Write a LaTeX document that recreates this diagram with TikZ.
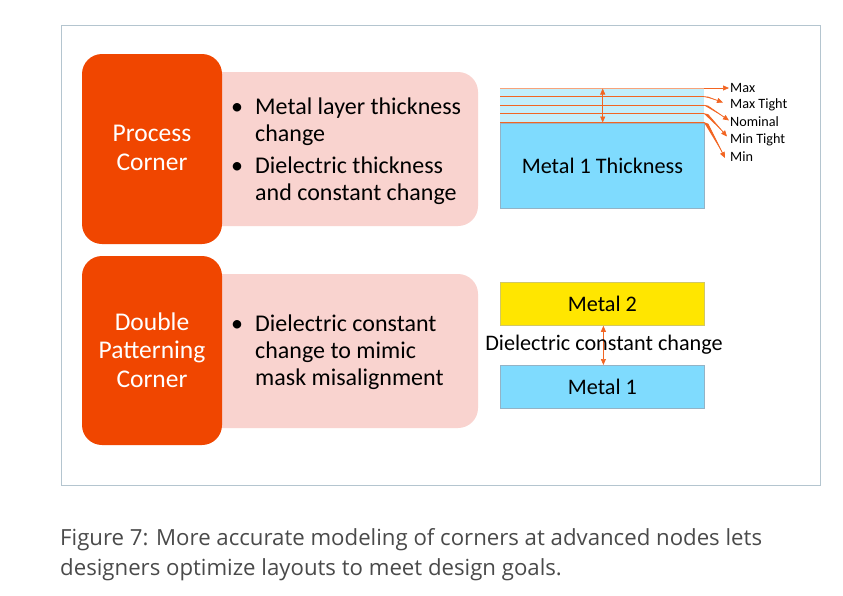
\documentclass[tikz,border=0pt]{standalone}
\usepackage{fontspec}
\setmainfont{Carlito}
\newfontfamily\capfont{Open Sans}
\usetikzlibrary{arrows.meta}
\definecolor{corner}{HTML}{F04600}
\definecolor{pinkbg}{HTML}{F9D3CF}
\definecolor{metalblue}{HTML}{7FDBFE}
\definecolor{bandblue}{HTML}{C2EEFB}
\definecolor{metalyellow}{HTML}{FFE600}
\definecolor{edgeblue}{HTML}{93B3C6}
\definecolor{frame}{HTML}{B4C5CF}
\definecolor{lead}{HTML}{F26522}
\definecolor{captext}{HTML}{4A4A4A}
\begin{document}
\begin{tikzpicture}[x=1pt,y=-1pt,
  cornerbox/.style={fill=corner,rounded corners=20pt},
  pinkbox/.style={fill=pinkbg,rounded corners=20pt},
  cornertext/.style={text=white,font=\fontsize{25.5}{28.5}\selectfont,align=center},
  bullettext/.style={anchor=base west,font=\fontsize{24}{27}\selectfont,align=left,inner sep=0pt},
  metalbox/.style={draw=edgeblue,line width=0.8pt,fill=metalblue},
  leader/.style={draw=lead,line width=0.7pt},
  tip/.style={-{Triangle[length=6pt,width=5pt]},draw=lead,fill=lead,line width=0.7pt},
  dtip/.style={{Triangle[length=6pt,width=5pt]}-{Triangle[length=6pt,width=5pt]},draw=lead,line width=0.7pt},
  lvl/.style={anchor=west,font=\fontsize{14.2}{16}\selectfont,inner sep=0pt},
  bigtext/.style={font=\fontsize{22.2}{26}\selectfont}]
\useasboundingbox (0,0) rectangle (843,595);
\fill[white] (0,0) rectangle (843,595);
\draw[frame,line width=0.8pt] (61,25) rectangle (820,485);
% Process corner
\fill[pinkbox] (180,72) rectangle (478,226);
\fill[cornerbox] (82,54) rectangle (222,244);
\node[cornertext] (pc) at (152,148) {Process\\Corner};
\node[bullettext] (b1) at (231,141) {\makebox[24pt][l]{\textbullet}Metal layer thickness\\\hspace{24pt}change};
\node[bullettext] (b2) at (231,200) {\makebox[24pt][l]{\textbullet}Dielectric thickness\\\hspace{24pt}and constant change};
% Double patterning corner
\fill[pinkbox] (180,274) rectangle (478,428);
\fill[cornerbox] (82,256) rectangle (222,445);
\node[cornertext] (dp) at (152,350) {Double\\Patterning\\Corner};
\node[bullettext] (b3) at (231,385) {\makebox[24pt][l]{\textbullet}Dielectric constant\\\hspace{24pt}change to mimic\\\hspace{24pt}mask misalignment};
% Metal 1 thickness
\fill[bandblue] (500,88) rectangle (704,123);
\node[metalbox,minimum width=204pt,minimum height=85pt,inner sep=0pt,anchor=north west,bigtext] (m1t) at (500,122.5) {Metal 1 Thickness};
\coordinate (c0) at (704,88);
\coordinate (c1) at (704,96.7);
\coordinate (c2) at (704,105.3);
\coordinate (c3) at (704,113.7);
\coordinate (c4) at (704,122.5);
\draw[leader,draw=lead!60] (500,88) -- (c0);
\draw[leader] (500,96.7) -- (c1);
\draw[leader] (500,105.3) -- (c2);
\draw[leader] (500,113.7) -- (c3);
\draw[leader] (500,122.5) -- (c4);
\coordinate (at) at (602.7,88.5);
\coordinate (ab) at (602.7,122.5);
\draw[dtip] (at) -- (ab);
\node[lvl] (lmax) at (730,87.5) {Max};
\node[lvl] (lmt) at (730,104.5) {Max Tight};
\node[lvl] (lnom) at (730,122) {Nominal};
\node[lvl] (lmint) at (730,139.5) {Min Tight};
\node[lvl] (lmin) at (730,157) {Min};
\draw[tip] (c0) -- (729,88);
\draw[tip] (c1) -- (708,97) -- (723,102.5);
\draw[tip] (c2) -- (708,106) -- (729,120.5);
\draw[tip] (c3) -- (708,114.5) -- (727,136.5);
\draw[tip] (c4) -- (708,124) -- (725,158);
% Metal 2 / Metal 1
\node[draw=metalyellow!70!black!60,line width=0.8pt,fill=metalyellow,minimum width=204pt,minimum height=43pt,inner sep=0pt,anchor=north west,bigtext] (m2) at (500,282) {Metal 2};
\node[metalbox,minimum width=204pt,minimum height=43pt,inner sep=0pt,anchor=north west,bigtext] (m1) at (500,365) {Metal 1};
\path (m2.south) ++(1,0) coordinate (d0) (m1.north) ++(1,0) coordinate (d1);
\draw[dtip] (d0) -- (d1);
\node[bigtext,inner sep=0pt] (dcc) at (604,345) {Dielectric constant change};
% caption
\node[anchor=west,text=captext,font=\capfont\fontsize{22.2}{30}\selectfont,align=left,inner sep=0pt] (cap) at (60,555) {Figure 7: More accurate modeling of corners at advanced nodes lets\\designers optimize layouts to meet design goals.};
\end{tikzpicture}
\end{document}
